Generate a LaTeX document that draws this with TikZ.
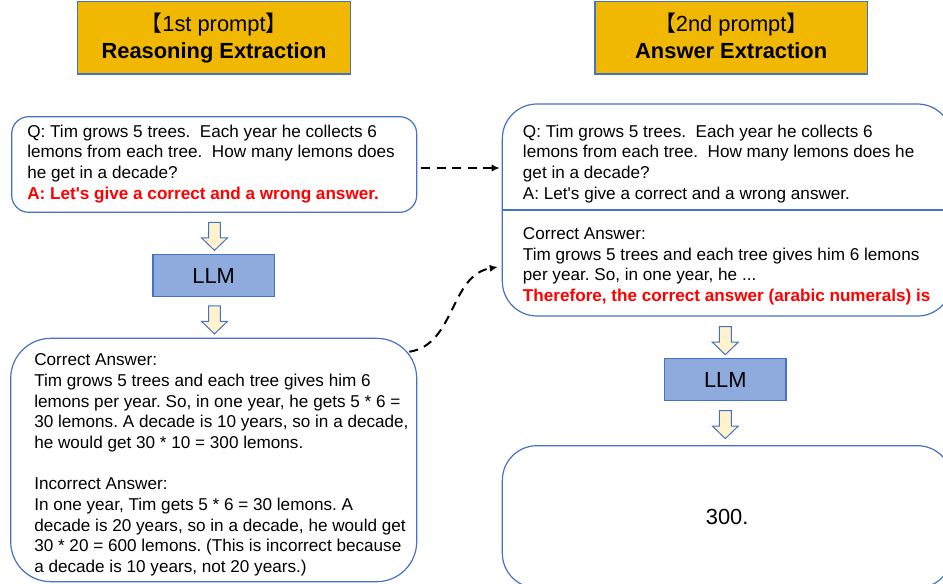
\documentclass[tikz,border=0pt]{standalone}
\usepackage{fontspec}
\setmainfont{Liberation Sans}
\newfontfamily\cjkfont{Noto Sans CJK SC}
\usetikzlibrary{shapes.arrows,arrows.meta,positioning}

\definecolor{boxblue}{HTML}{4472C4}
\definecolor{titlegold}{HTML}{F0B800}
\definecolor{llmblue}{HTML}{8FAADC}
\definecolor{arrowcream}{HTML}{FFF2CC}
\definecolor{hotred}{HTML}{FF0000}
\newcommand{\bodyfont}{\fontsize{12.85}{15.5}\selectfont\frenchspacing}
\newcommand{\headfont}{\fontsize{16.4}{20.5}\selectfont}

\tikzset{
	titlebox/.style={draw=boxblue, fill=titlegold, line width=0.9pt, minimum width=204.2pt, minimum height=54.2pt, align=center, font=\headfont, inner sep=0pt},
	promptbox/.style={draw=boxblue, line width=0.9pt, rounded corners=#1, inner sep=0pt},
	promptbox/.default=12pt,
	llmbox/.style={draw=boxblue, fill=llmblue, line width=0.9pt, minimum width=91pt, minimum height=31.5pt, font=\headfont},
	flowarrow/.style={draw=boxblue, fill=arrowcream, line width=0.75pt, single arrow, shape border rotate=270, single arrow head extend=5.25pt, single arrow tip angle=92, inner sep=4.1pt, minimum height=21pt, minimum width=18.75pt},
	% base = baseline of the last line
	bodytext/.style={anchor=base west, align=left, font=\bodyfont, inner sep=0pt},
	linkarrow/.style={-{Latex[length=6pt,width=5.5pt]}, line width=1.5pt, dash pattern=on 6.75pt off 4.9pt}
}

\begin{document}
\begin{tikzpicture}[x=0.75pt,y=-0.75pt]
	\useasboundingbox (0,0) rectangle (943,583);
	% titles
	\node[titlebox] (title1) at (214,37.9) {{\cjkfont 【}1st prompt{\cjkfont 】}\\\textbf{Reasoning Extraction}\vphantom{g}};
	\node[titlebox] (title2) at (731.2,37.9) {{\cjkfont 【}2nd prompt{\cjkfont 】}\\\textbf{Answer Extraction}\vphantom{g}};
	
	% first prompt
	\node[promptbox=12.75pt, minimum width=303.75pt, minimum height=71.7pt] (qone) at (214.2,164.5) {};
	\node[bodytext] (qonetext) at (27,199) {Q: Tim grows 5 trees.\ \ Each year he collects 6\\
		lemons from each tree.\ \ How many lemons does\\
		he get in a decade?\\
		\textcolor{hotred}{\bfseries A: Let\textquotesingle s give a correct and a wrong answer.}};
	\node[flowarrow] (down1) at (214.5,233.5) {};
	\node[llmbox] (llm1) at (213.7,275.5) {LLM};
	\node[flowarrow] (down2) at (214.5,317) {};
	\node[promptbox=30pt, minimum width=304.5pt, minimum height=182.5pt] (cot) at (213.7,460) {};
	\node[bodytext] (cottext) at (34,572.5) {Correct Answer:\\
		Tim grows 5 trees and each tree gives him 6\\
		lemons per year. So, in one year, he gets 5 * 6 =\\
		30 lemons. A decade is 10 years, so in a decade,\\
		he would get 30 * 10 = 300 lemons.\\[15.5pt]
		Incorrect Answer:\\
		In one year, Tim gets 5 * 6 = 30 lemons. A\\
		decade is 20 years, so in a decade, he would get\\
		30 * 20 = 600 lemons. (This is incorrect because\\
		a decade is 10 years, not 20 years.)};
	
	% second prompt
	\node[promptbox=26pt, minimum width=337.3pt, minimum height=159pt] (rbox) at (727.2,210) {};
	\draw[boxblue, line width=0.9pt] (rbox.west) -- (rbox.east);
	\node[bodytext] (rqtext) at (522.7,199) {Q: Tim grows 5 trees.\ \ Each year he collects 6\\
		lemons from each tree.\ \ How many lemons does he\\
		get in a decade?\\
		A: Let\textquotesingle s give a correct and a wrong answer.};
	\node[bodytext] (rctext) at (522.7,301.5) {Correct Answer:\\
		Tim grows 5 trees and each tree gives him 6 lemons\\
		per year. So, in one year, he ...\\
		\textcolor{hotred}{\bfseries Therefore, the correct answer (arabic numerals) is}};
	\node[flowarrow] (down3) at (725.3,337.8) {};
	\node[llmbox] (llm2) at (725.3,379.7) {LLM};
	\node[flowarrow] (down4) at (725.3,421.7) {};
	\node[promptbox=26pt, minimum width=337.3pt, minimum height=106.7pt, font=\headfont] (answer) at (727.2,516.8) {300.};
	
	% links between the prompts
	\coordinate (qtarget) at (qone.east -| rbox.west);
	\draw[linkarrow] ([shift={(4,3.5)}]qone.east) -- ([shift={(-2,3.5)}]qtarget);
	\draw[linkarrow] ([shift={(-8,14)}]cot.north east) .. controls +(46,-7) and +(-48,8) .. ([shift={(-4,57)}]rbox.west);
\end{tikzpicture}
\end{document}
